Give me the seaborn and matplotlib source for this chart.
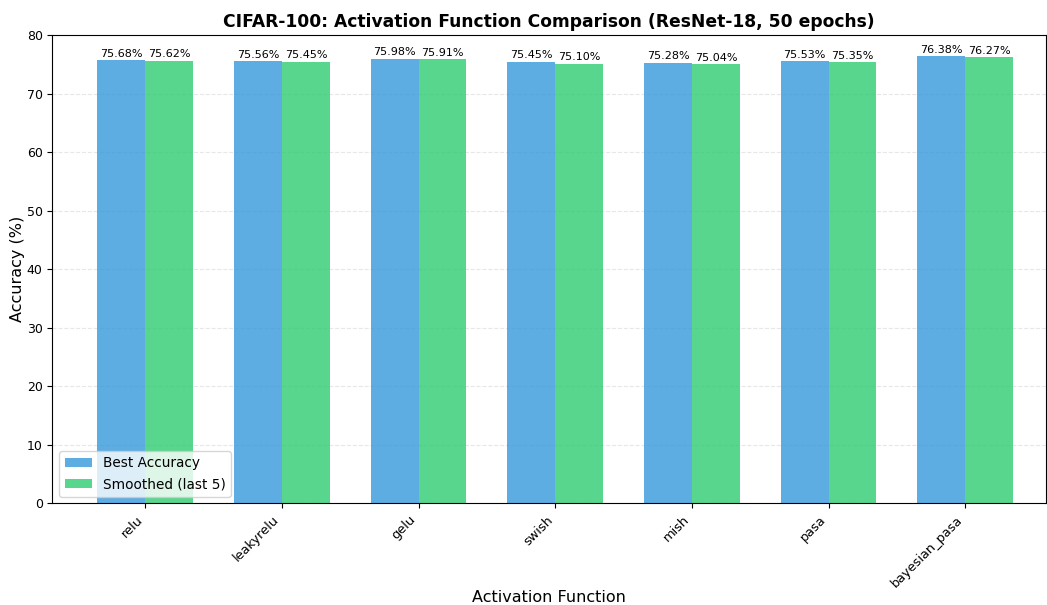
import numpy as np
import pandas as pd
import matplotlib
matplotlib.use("Agg")
import matplotlib.pyplot as plt
import seaborn as sns

# activation functions and their accuracies
activations = ["relu", "leakyrelu", "gelu", "swish", "mish", "pasa", "bayesian_pasa"]
best_acc = [75.68, 75.56, 75.98, 75.45, 75.28, 75.53, 76.38]
smoothed_acc = [75.62, 75.45, 75.91, 75.10, 75.04, 75.35, 76.27]

#long format table for seaborn
data = pd.DataFrame({
    "Activation": activations * 2,
    "Accuracy": best_acc + smoothed_acc,
    "Metric": ["Best Accuracy"] * len(activations) + ["Smoothed (last 5)"] * len(activations),
})

fig, ax = plt.subplots(figsize=(10.47, 6.05), dpi=100)
fig.subplots_adjust(left=0.05, right=0.999, top=0.942, bottom=0.168)

sns.barplot(data=data, x="Activation", y="Accuracy", hue="Metric",
            palette=["#3498db", "#2ecc71"], alpha=0.8, width=0.7,
            saturation=1, linewidth=0, ax=ax)

#value labels above each bar
for container in ax.containers:
    ax.bar_label(container, fmt="%.2f%%", fontsize=8, padding=1)

ax.set_title("CIFAR-100: Activation Function Comparison (ResNet-18, 50 epochs)",
             fontsize=12.3, fontweight="bold")
ax.set_xlabel("Activation Function", fontsize=11.5)
ax.xaxis.set_label_coords(0.5, -0.185)
ax.set_ylabel("Accuracy (%)", fontsize=11.5, labelpad=1)
ax.set_ylim(0, 80)
ax.set_xlim(-0.68, 6.59)
plt.xticks(rotation=45, ha="right", fontsize=9.3)
plt.yticks(fontsize=9)
ax.yaxis.grid(True, linestyle="--", alpha=0.3)
ax.set_axisbelow(True)
ax.legend(loc="lower left", fontsize=9.8)

plt.savefig("out.png", dpi=100)
